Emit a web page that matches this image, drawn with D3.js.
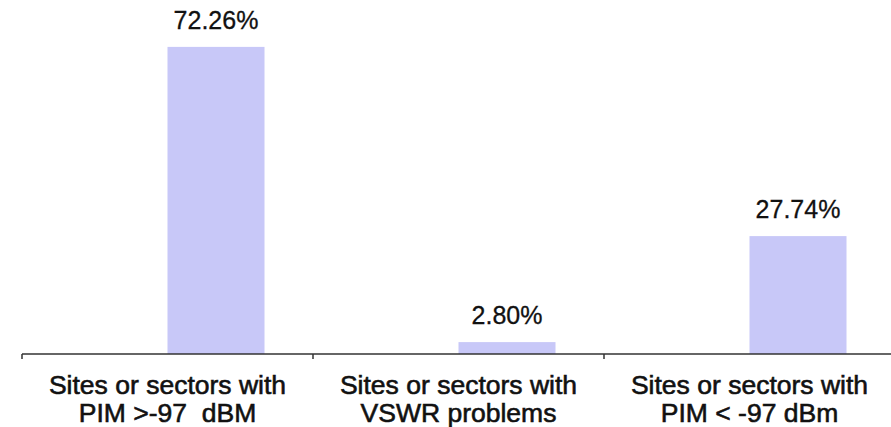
<!DOCTYPE html>
<html>
  <head>
    <meta charset="utf-8" />
    <title>PIM site share</title>
    <script src="https://d3js.org/d3.v7.min.js"></script>
    <style>
      body {
        margin: 0;
        background: #fff;
        font-family: "Liberation Sans", Arial, sans-serif;
      }
      .bar {
        fill: #c8c8f8;
      }
      .value {
        font-size: 25px;
        fill: #111;
        stroke: #111;
        stroke-width: 0.3px;
      }
      .cat {
        font-size: 26.5px;
        fill: #111;
        stroke: #111;
        stroke-width: 0.6px;
      }
      .axis line,
      .axis path {
        stroke: #333;
        stroke-width: 1.5px;
      }
    </style>
  </head>
  <body>
    <svg id="chart" width="891" height="427"></svg>

    <script>
      // Data
      const categories = ['a', 'b', 'c'];
      const labelLines = [
        ['Sites or sectors with', 'PIM >-97  dBM'],
        ['Sites or sectors with', 'VSWR problems'],
        ['Sites or sectors with', 'PIM < -97 dBm']
      ];
      const values = [72.26, 2.80, 27.74];
      const valueLabels = ['72.26%', '2.80%', '27.74%'];

      const width = 891;
      const height = 427;
      const axisY = 354;

      const svg = d3.select('#chart');

      // one band per category; the bar sits just right of the band centre
      const x = d3.scaleBand()
                  .domain(categories)
                  .range([22, 895])
                  .padding(0);

      const y = d3.scaleLinear()
                  .domain([0, 80])
                  .range([axisY, 14]);

      const barW = x.bandwidth() / 3;
      const barX = c => x(c) + x.bandwidth() / 2;

      svg.selectAll('.bar')
         .data(values)
         .enter().append('rect')
           .attr('class', 'bar')
           .attr('x', (d, i) => barX(categories[i]))
           .attr('y', d => y(d))
           .attr('width', barW)
           .attr('height', d => y(0) - y(d));

      svg.selectAll('.value')
         .data(values)
         .enter().append('text')
           .attr('class', 'value')
           .attr('text-anchor', 'middle')
           .attr('x', (d, i) => barX(categories[i]) + barW / 2)
           .attr('y', d => y(d) - 18)
           .text((d, i) => valueLabels[i]);

      // axis: line plus ticks on the band edges
      const axis = svg.append('g').attr('class', 'axis');
      axis.append('path')
          .attr('d', `M${x.range()[0]},${axisY}H${x.range()[1]}`);
      const edges = categories.map(c => x(c)).concat([x.range()[1]]);
      axis.selectAll('line')
          .data(edges)
          .enter().append('line')
            .attr('x1', d => d).attr('x2', d => d)
            .attr('y1', axisY).attr('y2', axisY + 5);

      const cats = svg.selectAll('.cat')
         .data(categories)
         .enter().append('text')
           .attr('class', 'cat')
           .attr('text-anchor', 'middle');
      cats.each(function (c, i) {
        const t = d3.select(this);
        labelLines[i].forEach((line, j) => {
          t.append('tspan')
           .attr('x', x(c) + x.bandwidth() / 2)
           .attr('y', 394 + j * 28)
           .attr('xml:space', 'preserve')
           .style('white-space', 'pre')
           .text(line);
        });
      });
    </script>
  </body>
</html>
